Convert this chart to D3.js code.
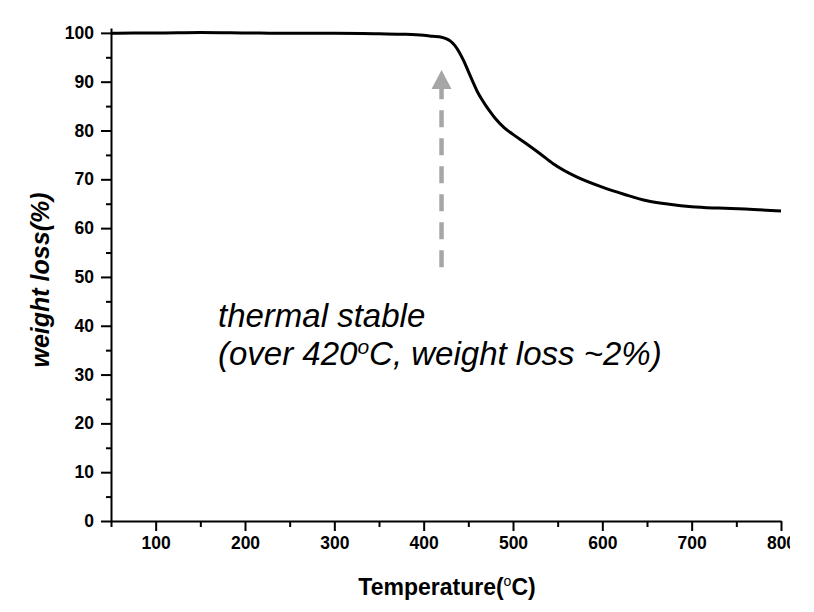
<!DOCTYPE html>
<html>
<head>
<meta charset="utf-8">
<script src="https://cdn.jsdelivr.net/npm/d3@7"></script>
<style>
  html, body { margin: 0; padding: 0; background: #fff; }
  svg { display: block; }
  text { font-family: "Liberation Sans", Arial, sans-serif; }
</style>
</head>
<body>
<script>
// ---- data ----
const temperature = [50, 75, 100, 150, 200, 250, 300, 350, 380, 400, 410, 420, 425, 430, 435, 440, 445, 450, 455, 460, 465, 470, 475, 480, 490, 500, 515, 530, 545, 570, 600, 625, 650, 675, 700, 730, 760, 800];
const weight      = [99.9, 100.0, 100.0, 100.1, 100.0, 99.9, 99.9, 99.8, 99.7, 99.5, 99.3, 99.1, 98.8, 98.3, 97.4, 96.0, 94.2, 92.1, 90.0, 88.0, 86.4, 85.0, 83.7, 82.5, 80.6, 79.2, 77.3, 75.3, 73.2, 70.6, 68.4, 66.9, 65.6, 64.9, 64.4, 64.1, 63.9, 63.5];
const xTicks = [100, 200, 300, 400, 500, 600, 700, 800];
const xMinorTicks = [50, 150, 250, 350, 450, 550, 650, 750];
const yTicks = [0, 10, 20, 30, 40, 50, 60, 70, 80, 90, 100];
const yMinorTicks = [5, 15, 25, 35, 45, 55, 65, 75, 85, 95];
const arrowX = 420;          // temperature of the annotation arrow
const arrowFrom = 52;        // weight % at arrow tail
const arrowTo = 92.4;        // weight % at arrow tip
const annotationLines = ["thermal stable", "(over 420", "o", "C, weight loss ~2%)"];
const xTitle = ["Temperature(", "o", "C)"];
const yTitle = "weight loss(%)";

const W = 790, H = 612;
const svg = d3.select("body").append("svg").attr("width", W).attr("height", H);

const x = d3.scaleLinear().domain([50, 800]).range([111, 781]);
const y = d3.scaleLinear().domain([0, 101]).range([521, 28]);

// minor ticks
const gxMinor = svg.append("g").attr("transform", `translate(0,${y(0)})`)
  .call(d3.axisBottom(x).tickValues(xMinorTicks).tickSize(6).tickFormat(""));
const gyMinor = svg.append("g").attr("transform", `translate(${x(50)},0)`)
  .call(d3.axisLeft(y).tickValues(yMinorTicks).tickSize(5).tickFormat(""));
[gxMinor, gyMinor].forEach(g => { g.select(".domain").remove(); g.selectAll("line").attr("stroke", "#000").attr("stroke-width", 2); });

// major axes
const gx = svg.append("g").attr("transform", `translate(0,${y(0)})`)
  .call(d3.axisBottom(x).tickValues(xTicks).tickSize(10).tickSizeOuter(0).tickPadding(6));
const gy = svg.append("g").attr("transform", `translate(${x(50)},0)`)
  .call(d3.axisLeft(y).tickValues(yTicks).tickSize(10).tickSizeOuter(0).tickPadding(7));
[gx, gy].forEach(g => {
  g.select(".domain").attr("stroke", "#000").attr("stroke-width", 2);
  g.selectAll(".tick line").attr("stroke", "#000").attr("stroke-width", 2);
  g.selectAll(".tick text").attr("fill", "#000")
    .style("font-family", '"Liberation Sans", Arial, sans-serif')
    .style("font-size", "17.5px").style("font-weight", "bold");
});

// curve
const data = temperature.map((t, i) => [t, weight[i]]);
svg.append("path").datum(data)
  .attr("fill", "none").attr("stroke", "#000").attr("stroke-width", 3)
  .attr("stroke-linejoin", "round")
  .attr("d", d3.line().x(d => x(d[0])).y(d => y(d[1])).curve(d3.curveMonotoneX));

// arrow
const ax = x(arrowX);
const headBase = y(arrowTo) + 19;
svg.append("line")
  .attr("x1", ax).attr("x2", ax)
  .attr("y1", y(arrowFrom)).attr("y2", headBase)
  .attr("stroke", "#a6a6a6").attr("stroke-width", 4.5)
  .attr("stroke-dasharray", "17,11");
svg.append("path")
  .attr("d", `M${ax},${y(arrowTo)} L${ax + 10},${headBase} L${ax - 10},${headBase} Z`)
  .attr("fill", "#a6a6a6");

// annotation
const ann = svg.append("text").attr("x", 218).attr("y", 327)
  .style("font-size", "33px").style("font-style", "italic").attr("fill", "#000");
ann.append("tspan").attr("x", 218).attr("y", 327).text(annotationLines[0]);
ann.append("tspan").attr("x", 218).attr("y", 365).text(annotationLines[1]);
ann.append("tspan").attr("dy", -11).style("font-size", "21px").text(annotationLines[2]);
ann.append("tspan").attr("dy", 11).text(annotationLines[3]);

// x title
const xt = svg.append("text").attr("x", 447).attr("y", 595).attr("text-anchor", "middle")
  .style("font-size", "23px").style("font-weight", "bold").attr("fill", "#000");
xt.append("tspan").text(xTitle[0]);
xt.append("tspan").attr("dy", -9).style("font-size", "14px").style("font-weight", "normal").text(xTitle[1]);
xt.append("tspan").attr("dy", 9).text(xTitle[2]);

// y title
svg.append("text").attr("transform", "translate(49,280) rotate(-90)")
  .attr("text-anchor", "middle")
  .style("font-size", "25px").style("font-weight", "bold").style("font-style", "italic")
  .attr("fill", "#000").text(yTitle);
</script>
</body>
</html>
